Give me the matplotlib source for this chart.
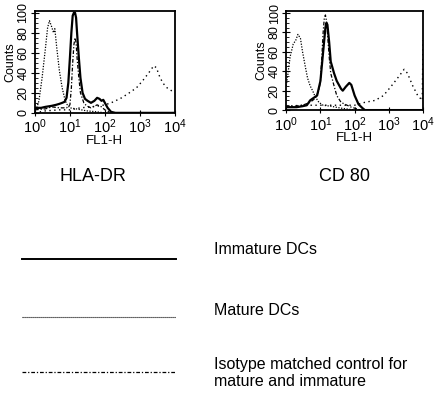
import numpy as np
import matplotlib.pyplot as plt
from matplotlib.ticker import LogLocator, MultipleLocator, NullFormatter

plt.rcParams['font.family'] = ['Liberation Sans', 'DejaVu Sans']

# HLA-DR panel
hla_imm_x = [1, 1.5, 2, 3, 4, 5, 6, 7, 8, 9, 10, 11, 12, 13, 14, 15, 16, 18, 20, 23, 27, 32, 40, 50, 60, 70, 80, 90, 100, 120, 150, 200, 10000]
hla_imm_y = [5, 5, 6, 7, 8, 9, 10, 11, 15, 30, 55, 80, 97, 100, 100, 95, 80, 55, 35, 20, 14, 12, 10, 12, 15, 14, 12, 13, 10, 5, 1, 0, 0]
hla_mat_x = [1, 2, 5, 10, 20, 40, 70, 100, 150, 200, 300, 500, 800, 1200, 1800, 2500, 3000, 3500, 4500, 6000, 10000]
hla_mat_y = [0, 2, 3, 3, 5, 6, 7, 8, 10, 12, 15, 20, 25, 32, 40, 47, 45, 38, 30, 25, 20]
hla_iso1_x = [1, 1.15, 1.3, 1.6, 2.0, 2.3, 2.6, 3.0, 3.4, 3.7, 4.2, 5, 6, 7, 8, 10, 15, 30, 60, 100]
hla_iso1_y = [3, 6, 12, 35, 65, 85, 92, 86, 80, 84, 65, 42, 25, 15, 9, 5, 4, 2, 1, 0]
hla_iso2_x = [1, 2, 3, 5, 8, 10, 11, 12, 13, 14, 15, 16, 18, 20, 25, 30, 40, 60, 80, 100, 150]
hla_iso2_y = [3, 4, 6, 5, 5, 8, 25, 50, 68, 75, 70, 55, 35, 20, 10, 7, 5, 8, 6, 3, 0]

# CD 80 panel
cd_imm_x = [1, 2, 3, 4, 5, 6, 8, 10, 12, 14, 15, 16, 18, 20, 25, 30, 40, 45, 55, 70, 80, 100, 130, 170, 200, 10000]
cd_imm_y = [3, 3, 4, 5, 10, 12, 15, 30, 60, 85, 90, 88, 70, 50, 38, 30, 22, 20, 24, 28, 26, 15, 6, 2, 0, 0]
cd_mat_x = [1, 3, 10, 30, 100, 200, 400, 700, 1200, 2000, 2800, 3500, 5000, 7000, 9500, 10000]
cd_mat_y = [4, 5, 5, 5, 5, 8, 10, 15, 25, 35, 42, 38, 25, 15, 10, 72]
cd_iso1_x = [1, 1.1, 1.3, 1.6, 1.9, 2.2, 2.6, 3.0, 3.6, 4.2, 5, 5.9, 7, 9, 12, 20, 40, 100]
cd_iso1_y = [25, 35, 55, 68, 72, 78, 74, 60, 45, 33, 25, 20, 14, 8, 5, 4, 2, 0]
cd_iso2_x = [1, 3, 5, 7, 9, 10, 11, 12, 13, 14, 15, 16, 18, 20, 25, 30, 40, 60, 80, 100, 150]
cd_iso2_y = [3, 5, 8, 12, 20, 30, 55, 80, 95, 98, 92, 80, 55, 38, 25, 15, 8, 5, 3, 2, 0]

panel_titles = ['HLA-DR', 'CD 80']
legend_labels = ['Immature DCs', 'Mature DCs', 'Isotype matched control for\nmature and immature']

fig = plt.figure(figsize=(4.37, 3.96), dpi=100)
ax1 = fig.add_axes([0.080, 0.715, 0.320, 0.258])
ax2 = fig.add_axes([0.655, 0.722, 0.313, 0.250])

panels = [
    (ax1, hla_imm_x, hla_imm_y, hla_mat_x, hla_mat_y, hla_iso1_x, hla_iso1_y, hla_iso2_x, hla_iso2_y),
    (ax2, cd_imm_x, cd_imm_y, cd_mat_x, cd_mat_y, cd_iso1_x, cd_iso1_y, cd_iso2_x, cd_iso2_y),
]
for ax, ix, iy, mx, my, i1x, i1y, i2x, i2y in panels:
    ax.plot(ix, iy, color='black', lw=1.6)
    ax.plot(mx, my, color='black', lw=1.0, ls=(0, (1, 2.5)))
    ax.plot(i1x, i1y, color='black', lw=0.9, ls=(0, (1, 1.2)))
    ax.plot(i2x, i2y, color='black', lw=0.9, ls=(0, (3, 1.5, 1, 1.5)))
    ax.set_xscale('log')
    ax.set_xlim(1, 10000)
    ax.set_ylim(0, 102)
    ax.set_xticks([1, 10, 100, 1000, 10000])
    ax.xaxis.set_minor_locator(LogLocator(base=10, subs=np.arange(2, 10)))
    ax.xaxis.set_minor_formatter(NullFormatter())
    ax.set_yticks([0, 20, 40, 60, 80, 100])
    ax.yaxis.set_minor_locator(MultipleLocator(5))
    ax.tick_params(axis='x', which='major', direction='inout', length=5, labelsize=10.5, pad=1)
    ax.tick_params(axis='x', which='minor', direction='in', length=2.5)
    ax.tick_params(axis='y', which='major', direction='inout', length=6, labelsize=9, pad=1)
    ax.tick_params(axis='y', which='minor', direction='in', length=2.5)
    for lab in ax.get_yticklabels():
        lab.set_rotation(90)
        lab.set_va('center')
    ax.set_ylabel('Counts', fontsize=9, labelpad=1)
    ax.set_xlabel('FL1-H', fontsize=9.5, labelpad=-1)
    for s in ax.spines.values():
        s.set_linewidth(1.3)

fig.text(0.213, 0.555, panel_titles[0], fontsize=13, ha='center', va='center')
fig.text(0.789, 0.555, panel_titles[1], fontsize=13, ha='center', va='center')

# legend drawn as figure lines
lax = fig.add_axes([0, 0, 1, 1])
lax.set_xlim(0, 1)
lax.set_ylim(0, 1)
lax.axis('off')
lax.plot([0.050, 0.403], [0.346, 0.346], color='black', lw=1.4)
lax.plot([0.050, 0.403], [0.199, 0.199], color='black', lw=0.8, ls=(0, (1, 0.8)))
lax.plot([0.050, 0.403], [0.061, 0.061], color='black', lw=0.9, ls=(0, (3, 1.5, 1, 1.5)))
lax.text(0.490, 0.369, legend_labels[0], fontsize=11.5, va='center')
lax.text(0.490, 0.217, legend_labels[1], fontsize=11.5, va='center')
lax.text(0.490, 0.058, legend_labels[2], fontsize=11.5, va='center', linespacing=1.1)

fig.savefig('out.png', dpi=100)
